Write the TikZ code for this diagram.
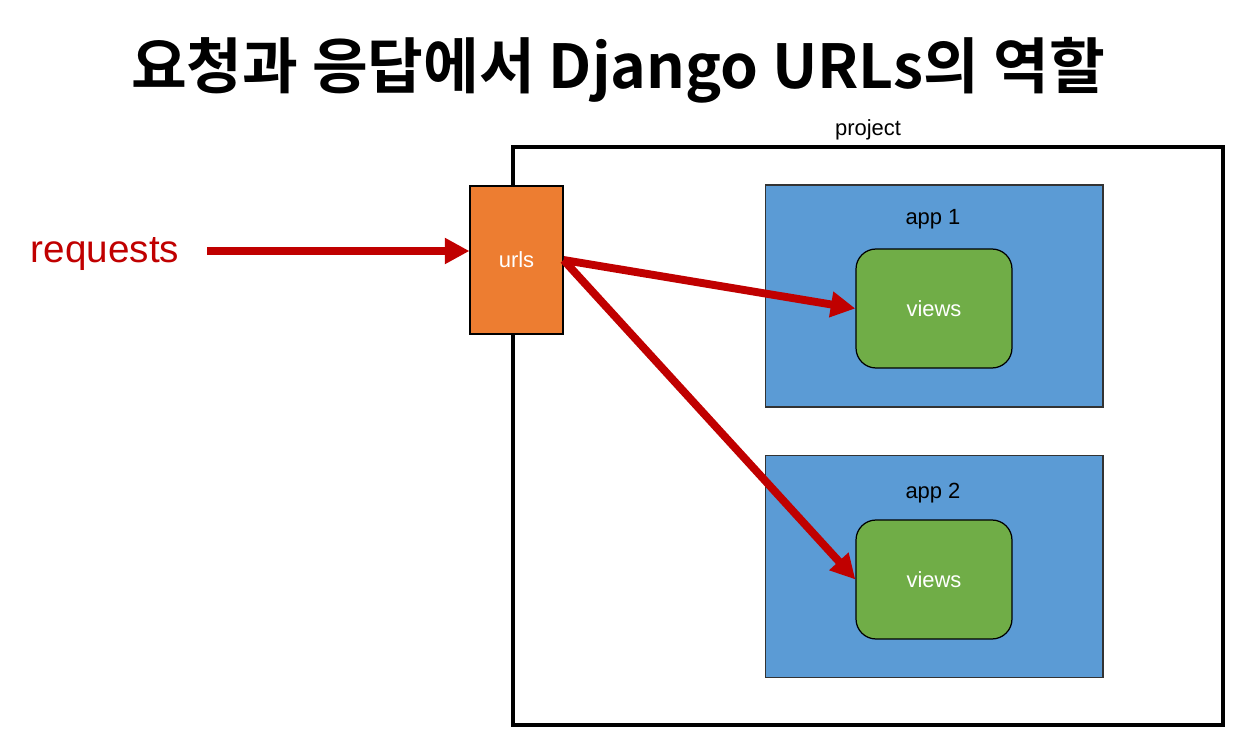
\documentclass[tikz,border=0pt]{standalone}
\usepackage{fontspec}
\setmainfont{Liberation Sans}
\newfontfamily\titlefont{Noto Sans CJK KR}[BoldFont={Noto Sans CJK KR Bold}]
\usetikzlibrary{arrows.meta}
\definecolor{reqred}{HTML}{C00000}
\definecolor{urlorange}{HTML}{ED7D31}
\definecolor{appblue}{HTML}{5B9BD5}
\definecolor{viewgreen}{HTML}{70AD47}
\begin{document}
\begin{tikzpicture}[x=0.02cm,y=-0.02cm,
		small/.style={font=\fontsize{12.5}{15}\selectfont},
		flow/.style={draw=reqred,line width=4.5pt,-{Triangle[length=14pt,width=14pt]}},
		appbox/.style={draw=black!80,line width=0.6pt,fill=appblue,minimum width=6.76cm,minimum height=4.44cm,inner sep=0pt},
		viewbox/.style={draw=black,line width=0.7pt,fill=viewgreen,rounded corners=0.4cm,minimum width=3.12cm,minimum height=2.38cm,text=white,small}]
		\useasboundingbox (0,0) rectangle (1242,736);
		
		\node[font=\titlefont\bfseries\fontsize{34.5}{41}\selectfont] (title) at (618,70) {요청과 응답에서 Django URLs의 역할};
		
		\node[draw,line width=2.3pt,minimum width=14.2cm,minimum height=11.56cm,inner sep=0pt] (project) at (868,436) {};
		\node[small] (projname) at (868,130) {project};
		
		\node[appbox] (app1) at (934,296) {};
		\node[small] (app1name) at (933,219) {app 1};
		\node[viewbox,text depth=0pt] (views1) at (934,308.5) {views};
		
		\node[appbox] (app2) at (934,566.5) {};
		\node[small] (app2name) at (933,493) {app 2};
		\node[viewbox,text depth=0pt] (views2) at (934,579.5) {views};
		
		\node[draw=black,line width=0.6pt,fill=urlorange,minimum width=1.86cm,minimum height=2.96cm,text=white,small,text depth=0pt] (urls) at (516.5,260) {urls};
		
		\node[text=reqred,font=\fontsize{22}{26}\selectfont] (requests) at (105,254) {requests};
		\coordinate (reqstart) at (207,251);
		
		\draw[flow] (reqstart) -- (reqstart -| urls.west);
		\draw[flow] (urls.east) -- (views1.west);
		\draw[flow] (urls.east) -- (views2.west);
	\end{tikzpicture}
\end{document}
